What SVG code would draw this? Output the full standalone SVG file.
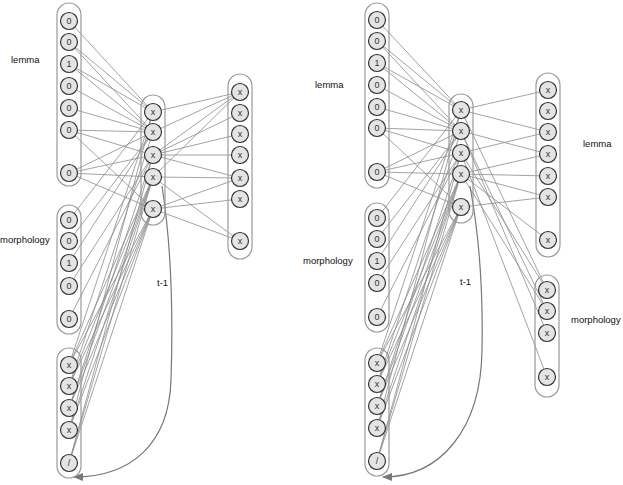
<svg xmlns="http://www.w3.org/2000/svg" width="623" height="485" viewBox="0 0 623 485">
<defs>
<style>
.cap{fill:none;stroke:#9a9a9a;stroke-width:1.2}
.n circle{fill:#e4e4e4;stroke:#333;stroke-width:1.2}
.n text{font-family:"Liberation Sans",Arial,sans-serif;font-size:9px;fill:#333;text-anchor:middle;dominant-baseline:central}
.lab{font-family:"Liberation Sans",Arial,sans-serif;font-size:9.5px;fill:#111}
.e line{stroke:#8c8c8c;stroke-width:0.8}
.loop{fill:none;stroke:#777;stroke-width:1.2}
</style>
<marker id="ah" markerWidth="10" markerHeight="8" refX="9" refY="4" orient="auto" markerUnits="userSpaceOnUse">
<path d="M0,0 L10,4 L0,8 Z" fill="#777"/>
</marker>
</defs>
<rect width="623" height="485" fill="#fff"/>

<g id="connectors">
<g class="e">
<line x1="69" y1="21" x2="153" y2="112"/>
<line x1="69" y1="42" x2="153" y2="112"/>
<line x1="69" y1="42" x2="153" y2="132"/>
<line x1="69" y1="64" x2="153" y2="112"/>
<line x1="69" y1="64" x2="153" y2="132"/>
<line x1="69" y1="86" x2="153" y2="132"/>
<line x1="69" y1="108" x2="153" y2="132"/>
<line x1="69" y1="130" x2="153" y2="132"/>
<line x1="69" y1="130" x2="153" y2="155"/>
<line x1="69" y1="130" x2="153" y2="209"/>
<line x1="69" y1="173" x2="153" y2="132"/>
<line x1="69" y1="173" x2="153" y2="155"/>
<line x1="69" y1="173" x2="153" y2="177"/>
<line x1="69" y1="173" x2="153" y2="209"/>
<line x1="69" y1="220" x2="153" y2="112"/>
<line x1="69" y1="241" x2="153" y2="132"/>
<line x1="69" y1="263" x2="153" y2="132"/>
<line x1="69" y1="286" x2="153" y2="155"/>
<line x1="69" y1="319" x2="153" y2="155"/>
<line x1="69" y1="365" x2="153" y2="112"/>
<line x1="69" y1="365" x2="153" y2="177"/>
<line x1="69" y1="365" x2="153" y2="209"/>
<line x1="69" y1="386" x2="153" y2="132"/>
<line x1="69" y1="386" x2="153" y2="177"/>
<line x1="69" y1="386" x2="153" y2="209"/>
<line x1="69" y1="408" x2="153" y2="155"/>
<line x1="69" y1="408" x2="153" y2="177"/>
<line x1="69" y1="408" x2="153" y2="209"/>
<line x1="69" y1="430" x2="153" y2="112"/>
<line x1="69" y1="430" x2="153" y2="177"/>
<line x1="69" y1="430" x2="153" y2="209"/>
<line x1="69" y1="463" x2="153" y2="155"/>
<line x1="69" y1="463" x2="153" y2="177"/>
<line x1="69" y1="463" x2="153" y2="209"/>
<line x1="153" y1="112" x2="240" y2="92"/>
<line x1="153" y1="132" x2="240" y2="92"/>
<line x1="153" y1="155" x2="240" y2="92"/>
<line x1="153" y1="155" x2="240" y2="113"/>
<line x1="153" y1="155" x2="240" y2="134"/>
<line x1="153" y1="155" x2="240" y2="155"/>
<line x1="153" y1="155" x2="240" y2="178"/>
<line x1="153" y1="177" x2="240" y2="92"/>
<line x1="153" y1="177" x2="240" y2="178"/>
<line x1="153" y1="177" x2="240" y2="241"/>
<line x1="153" y1="209" x2="240" y2="178"/>
<line x1="153" y1="209" x2="240" y2="199"/>
<line x1="153" y1="209" x2="240" y2="241"/>
<line x1="377" y1="20" x2="461" y2="110"/>
<line x1="377" y1="41" x2="461" y2="110"/>
<line x1="377" y1="41" x2="461" y2="131"/>
<line x1="377" y1="63" x2="461" y2="110"/>
<line x1="377" y1="63" x2="461" y2="131"/>
<line x1="377" y1="85" x2="461" y2="131"/>
<line x1="377" y1="107" x2="461" y2="131"/>
<line x1="377" y1="128" x2="461" y2="131"/>
<line x1="377" y1="128" x2="461" y2="153"/>
<line x1="377" y1="128" x2="461" y2="207"/>
<line x1="377" y1="172" x2="461" y2="131"/>
<line x1="377" y1="172" x2="461" y2="153"/>
<line x1="377" y1="172" x2="461" y2="174"/>
<line x1="377" y1="172" x2="461" y2="207"/>
<line x1="377" y1="218" x2="461" y2="110"/>
<line x1="377" y1="239" x2="461" y2="131"/>
<line x1="377" y1="261" x2="461" y2="131"/>
<line x1="377" y1="283" x2="461" y2="153"/>
<line x1="377" y1="317" x2="461" y2="153"/>
<line x1="377" y1="363" x2="461" y2="110"/>
<line x1="377" y1="363" x2="461" y2="174"/>
<line x1="377" y1="363" x2="461" y2="207"/>
<line x1="377" y1="384" x2="461" y2="131"/>
<line x1="377" y1="384" x2="461" y2="174"/>
<line x1="377" y1="384" x2="461" y2="207"/>
<line x1="377" y1="406" x2="461" y2="153"/>
<line x1="377" y1="406" x2="461" y2="174"/>
<line x1="377" y1="406" x2="461" y2="207"/>
<line x1="377" y1="428" x2="461" y2="110"/>
<line x1="377" y1="428" x2="461" y2="174"/>
<line x1="377" y1="428" x2="461" y2="207"/>
<line x1="377" y1="461" x2="461" y2="153"/>
<line x1="377" y1="461" x2="461" y2="174"/>
<line x1="377" y1="461" x2="461" y2="207"/>
<line x1="461" y1="110" x2="548" y2="90"/>
<line x1="461" y1="110" x2="548" y2="132"/>
<line x1="461" y1="131" x2="548" y2="154"/>
<line x1="461" y1="153" x2="548" y2="132"/>
<line x1="461" y1="174" x2="548" y2="154"/>
<line x1="461" y1="174" x2="548" y2="176"/>
<line x1="461" y1="174" x2="548" y2="197"/>
<line x1="461" y1="207" x2="548" y2="197"/>
<line x1="461" y1="174" x2="548" y2="240"/>
<line x1="461" y1="110" x2="547" y2="290"/>
<line x1="461" y1="131" x2="547" y2="311"/>
<line x1="461" y1="153" x2="547" y2="290"/>
<line x1="461" y1="174" x2="547" y2="311"/>
<line x1="461" y1="131" x2="547" y2="333"/>
<line x1="461" y1="153" x2="547" y2="377"/>
</g>
<path class="loop" d="M162,186 C172,250 173,320 171,380 C169,445 130,477 74,477" marker-end="url(#ah)"/>
<path class="loop" d="M470,186 C480,240 483,300 482,350 C481,430 440,477 383,477" marker-end="url(#ah)"/>
</g>

<g id="containers">
<rect class="cap" x="57" y="3" width="24" height="183" rx="12"/>
<rect class="cap" x="57" y="205" width="24" height="129" rx="12"/>
<rect class="cap" x="57" y="348" width="24" height="130" rx="12"/>
<rect class="cap" x="141" y="95" width="24" height="130" rx="12"/>
<rect class="cap" x="228" y="74" width="24" height="185" rx="12"/>
<rect class="cap" x="365" y="3" width="24" height="185" rx="12"/>
<rect class="cap" x="365" y="203" width="24" height="129" rx="12"/>
<rect class="cap" x="365" y="348" width="24" height="128" rx="12"/>
<rect class="cap" x="449" y="94" width="24" height="129" rx="12"/>
<rect class="cap" x="536" y="73" width="24" height="184" rx="12"/>
<rect class="cap" x="535" y="275" width="24" height="122" rx="12"/>
</g>

<g id="left-inputs">
<g id="L-in0" class="n"><circle cx="69" cy="21" r="8.5"/><text x="69" y="21">0</text></g>
<g id="L-in1" class="n"><circle cx="69" cy="42" r="8.5"/><text x="69" y="42">0</text></g>
<g id="L-in2" class="n"><circle cx="69" cy="64" r="8.5"/><text x="69" y="64">1</text></g>
<g id="L-in3" class="n"><circle cx="69" cy="86" r="8.5"/><text x="69" y="86">0</text></g>
<g id="L-in4" class="n"><circle cx="69" cy="108" r="8.5"/><text x="69" y="108">0</text></g>
<g id="L-in5" class="n"><circle cx="69" cy="130" r="8.5"/><text x="69" y="130">0</text></g>
<g id="L-in6" class="n"><circle cx="69" cy="173" r="8.5"/><text x="69" y="173">0</text></g>
<g id="L-m0" class="n"><circle cx="69" cy="220" r="8.5"/><text x="69" y="220">0</text></g>
<g id="L-m1" class="n"><circle cx="69" cy="241" r="8.5"/><text x="69" y="241">0</text></g>
<g id="L-m2" class="n"><circle cx="69" cy="263" r="8.5"/><text x="69" y="263">1</text></g>
<g id="L-m3" class="n"><circle cx="69" cy="286" r="8.5"/><text x="69" y="286">0</text></g>
<g id="L-m4" class="n"><circle cx="69" cy="319" r="8.5"/><text x="69" y="319">0</text></g>
<g id="L-c0" class="n"><circle cx="69" cy="365" r="8.5"/><text x="69" y="365">x</text></g>
<g id="L-c1" class="n"><circle cx="69" cy="386" r="8.5"/><text x="69" y="386">x</text></g>
<g id="L-c2" class="n"><circle cx="69" cy="408" r="8.5"/><text x="69" y="408">x</text></g>
<g id="L-c3" class="n"><circle cx="69" cy="430" r="8.5"/><text x="69" y="430">x</text></g>
<g id="L-c4" class="n"><circle cx="69" cy="463" r="8.5"/><text x="69" y="463">/</text></g>
</g>
<g id="left-hidden">
<g id="L-h0" class="n"><circle cx="153" cy="112" r="8.5"/><text x="153" y="112">x</text></g>
<g id="L-h1" class="n"><circle cx="153" cy="132" r="8.5"/><text x="153" y="132">x</text></g>
<g id="L-h2" class="n"><circle cx="153" cy="155" r="8.5"/><text x="153" y="155">x</text></g>
<g id="L-h3" class="n"><circle cx="153" cy="177" r="8.5"/><text x="153" y="177">x</text></g>
<g id="L-h4" class="n"><circle cx="153" cy="209" r="8.5"/><text x="153" y="209">x</text></g>
</g>
<g id="left-outputs">
<g id="L-o0" class="n"><circle cx="240" cy="92" r="8.5"/><text x="240" y="92">x</text></g>
<g id="L-o1" class="n"><circle cx="240" cy="113" r="8.5"/><text x="240" y="113">x</text></g>
<g id="L-o2" class="n"><circle cx="240" cy="134" r="8.5"/><text x="240" y="134">x</text></g>
<g id="L-o3" class="n"><circle cx="240" cy="155" r="8.5"/><text x="240" y="155">x</text></g>
<g id="L-o4" class="n"><circle cx="240" cy="178" r="8.5"/><text x="240" y="178">x</text></g>
<g id="L-o5" class="n"><circle cx="240" cy="199" r="8.5"/><text x="240" y="199">x</text></g>
<g id="L-o6" class="n"><circle cx="240" cy="241" r="8.5"/><text x="240" y="241">x</text></g>
</g>

<g id="right-inputs">
<g id="R-in0" class="n"><circle cx="377" cy="20" r="8.5"/><text x="377" y="20">0</text></g>
<g id="R-in1" class="n"><circle cx="377" cy="41" r="8.5"/><text x="377" y="41">0</text></g>
<g id="R-in2" class="n"><circle cx="377" cy="63" r="8.5"/><text x="377" y="63">1</text></g>
<g id="R-in3" class="n"><circle cx="377" cy="85" r="8.5"/><text x="377" y="85">0</text></g>
<g id="R-in4" class="n"><circle cx="377" cy="107" r="8.5"/><text x="377" y="107">0</text></g>
<g id="R-in5" class="n"><circle cx="377" cy="128" r="8.5"/><text x="377" y="128">0</text></g>
<g id="R-in6" class="n"><circle cx="377" cy="172" r="8.5"/><text x="377" y="172">0</text></g>
<g id="R-m0" class="n"><circle cx="377" cy="218" r="8.5"/><text x="377" y="218">0</text></g>
<g id="R-m1" class="n"><circle cx="377" cy="239" r="8.5"/><text x="377" y="239">0</text></g>
<g id="R-m2" class="n"><circle cx="377" cy="261" r="8.5"/><text x="377" y="261">1</text></g>
<g id="R-m3" class="n"><circle cx="377" cy="283" r="8.5"/><text x="377" y="283">0</text></g>
<g id="R-m4" class="n"><circle cx="377" cy="317" r="8.5"/><text x="377" y="317">0</text></g>
<g id="R-c0" class="n"><circle cx="377" cy="363" r="8.5"/><text x="377" y="363">x</text></g>
<g id="R-c1" class="n"><circle cx="377" cy="384" r="8.5"/><text x="377" y="384">x</text></g>
<g id="R-c2" class="n"><circle cx="377" cy="406" r="8.5"/><text x="377" y="406">x</text></g>
<g id="R-c3" class="n"><circle cx="377" cy="428" r="8.5"/><text x="377" y="428">x</text></g>
<g id="R-c4" class="n"><circle cx="377" cy="461" r="8.5"/><text x="377" y="461">/</text></g>
</g>
<g id="right-hidden">
<g id="R-h0" class="n"><circle cx="461" cy="110" r="8.5"/><text x="461" y="110">x</text></g>
<g id="R-h1" class="n"><circle cx="461" cy="131" r="8.5"/><text x="461" y="131">x</text></g>
<g id="R-h2" class="n"><circle cx="461" cy="153" r="8.5"/><text x="461" y="153">x</text></g>
<g id="R-h3" class="n"><circle cx="461" cy="174" r="8.5"/><text x="461" y="174">x</text></g>
<g id="R-h4" class="n"><circle cx="461" cy="207" r="8.5"/><text x="461" y="207">x</text></g>
</g>
<g id="right-outputs">
<g id="R-o0" class="n"><circle cx="548" cy="90" r="8.5"/><text x="548" y="90">x</text></g>
<g id="R-o1" class="n"><circle cx="548" cy="111" r="8.5"/><text x="548" y="111">x</text></g>
<g id="R-o2" class="n"><circle cx="548" cy="132" r="8.5"/><text x="548" y="132">x</text></g>
<g id="R-o3" class="n"><circle cx="548" cy="154" r="8.5"/><text x="548" y="154">x</text></g>
<g id="R-o4" class="n"><circle cx="548" cy="176" r="8.5"/><text x="548" y="176">x</text></g>
<g id="R-o5" class="n"><circle cx="548" cy="197" r="8.5"/><text x="548" y="197">x</text></g>
<g id="R-o6" class="n"><circle cx="548" cy="240" r="8.5"/><text x="548" y="240">x</text></g>
<g id="R-p0" class="n"><circle cx="547" cy="290" r="8.5"/><text x="547" y="290">x</text></g>
<g id="R-p1" class="n"><circle cx="547" cy="311" r="8.5"/><text x="547" y="311">x</text></g>
<g id="R-p2" class="n"><circle cx="547" cy="333" r="8.5"/><text x="547" y="333">x</text></g>
<g id="R-p3" class="n"><circle cx="547" cy="377" r="8.5"/><text x="547" y="377">x</text></g>
</g>

<g id="labels">
<text class="lab" x="11" y="63">lemma</text>
<text class="lab" x="0" y="243">morphology</text>
<text class="lab" x="157" y="286">t-1</text>
<text class="lab" x="315" y="88">lemma</text>
<text class="lab" x="303" y="264">morphology</text>
<text class="lab" x="460" y="285">t-1</text>
<text class="lab" x="583" y="147">lemma</text>
<text class="lab" x="571" y="323">morphology</text>
</g>
</svg>
